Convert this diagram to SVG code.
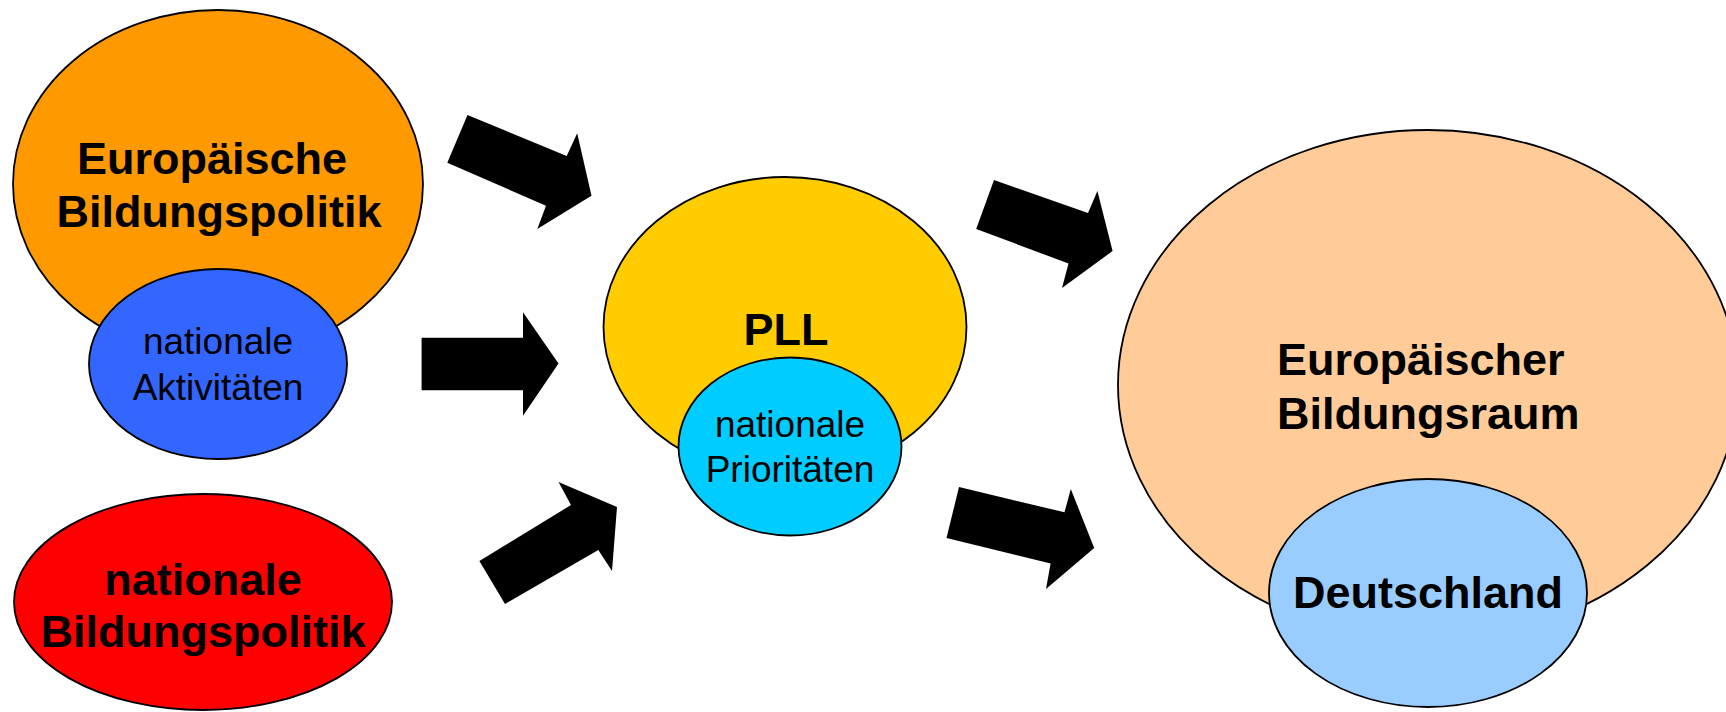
<svg xmlns="http://www.w3.org/2000/svg" width="1726" height="712" viewBox="0 0 1726 712">
<style>
.e{stroke:#000;stroke-width:1.8}
.b{font-family:"Liberation Sans",Arial,sans-serif;font-weight:bold;font-size:45px;fill:#000}
.r{font-family:"Liberation Sans",Arial,sans-serif;font-size:37px;fill:#000}
.arr{fill:#000}
</style>
<rect width="1726" height="712" fill="#fff"/>
<g id="europaeische-bildungspolitik">
<ellipse class="e" cx="218" cy="184" rx="205" ry="174" fill="#FF9900"/>
<text class="b" x="212" y="174" text-anchor="middle">Europäische</text>
<text class="b" x="219" y="227" text-anchor="middle">Bildungspolitik</text>
</g>
<g id="nationale-aktivitaeten">
<ellipse class="e" cx="218" cy="364" rx="129" ry="95" fill="#3366FF"/>
<text class="r" x="218" y="354" text-anchor="middle">nationale</text>
<text class="r" x="218" y="400" text-anchor="middle">Aktivitäten</text>
</g>
<g id="nationale-bildungspolitik">
<ellipse class="e" cx="203" cy="602" rx="189" ry="108" fill="#FF0000"/>
<text class="b" x="203" y="595" text-anchor="middle">nationale</text>
<text class="b" x="203" y="647" text-anchor="middle">Bildungspolitik</text>
</g>
<g id="pll">
<ellipse class="e" cx="785" cy="327" rx="181.5" ry="150" fill="#FFCC00"/>
<text class="b" x="786" y="345" text-anchor="middle">PLL</text>
</g>
<g id="nationale-prioritaeten">
<ellipse class="e" cx="790" cy="446.5" rx="111.5" ry="89" fill="#00CCFF"/>
<text class="r" x="790" y="437" text-anchor="middle">nationale</text>
<text class="r" x="790" y="482" text-anchor="middle">Prioritäten</text>
</g>
<g id="europaeischer-bildungsraum">
<ellipse class="e" cx="1428" cy="385" rx="310" ry="255" fill="#FFCC99"/>
<text class="b" x="1277" y="375">Europäischer</text>
<text class="b" x="1277" y="429">Bildungsraum</text>
</g>
<g id="deutschland">
<ellipse class="e" cx="1428" cy="593" rx="159" ry="114" fill="#99CCFF"/>
<text class="b" x="1428" y="608" text-anchor="middle">Deutschland</text>
</g>
<g id="connectors">
<polygon class="arr" points="467.5,115 566.7,156 577.2,133.3 591.5,195.7 537.3,229 546,205.7 447.3,162.7"/>
<polygon class="arr" points="421.6,337.7 523,337.7 523,312.3 558.5,363.5 523,415.7 523,390.3 421.6,390.3"/>
<polygon class="arr" points="479.4,561 571,505 558.5,482 617,507 612,571 598.3,550 505,604"/>
<polygon class="arr" points="994,180 1088,213 1097.4,191 1112.6,251 1062,288 1068.5,263.5 976.2,229"/>
<polygon class="arr" points="959,487 1064.5,512.3 1070.8,489 1094.2,548 1046,589 1050.6,563.5 946.5,538"/>
</g>
</svg>
